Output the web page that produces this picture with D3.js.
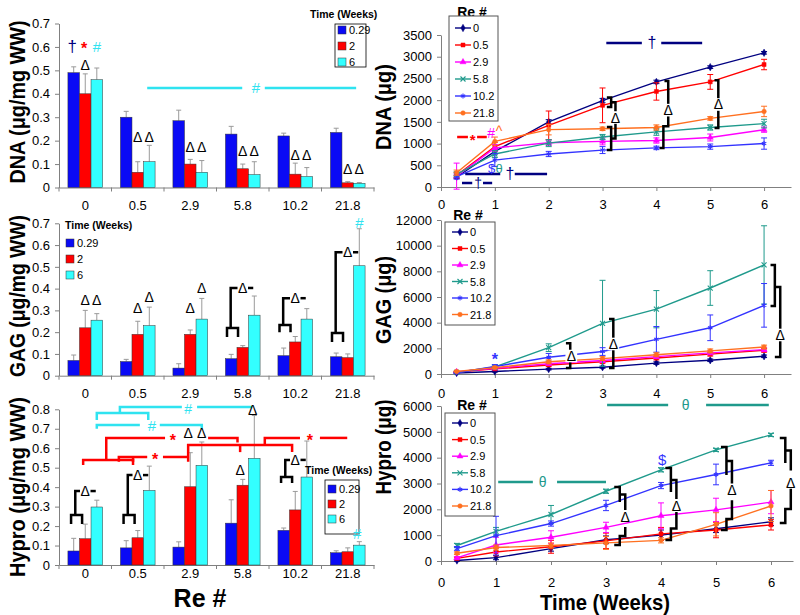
<!DOCTYPE html>
<html>
<head>
<meta charset="utf-8">
<script src="https://cdn.jsdelivr.net/npm/d3@7"></script>
<style>
  body { margin: 0; background: #fff; }
  text { font-family: Arial, "Liberation Sans", sans-serif; }
</style>
</head>
<body>
<svg id="chart" width="800" height="615"></svg>
<script>
'use strict';

// ---------- data ----------
const reCats = ["0", "0.5", "2.9", "5.8", "10.2", "21.8"];
const timeWeeks = ["0.29", "2", "6"];
const weeks = [0.29, 1, 2, 3, 4, 5, 6];

// per wet weight, [time][Re]
const dnaWW = [
  [0.49, 0.30, 0.285, 0.228, 0.22, 0.235],
  [0.40, 0.065, 0.10, 0.08, 0.057, 0.02],
  [0.46, 0.11, 0.065, 0.055, 0.047, 0.018]
];
const dnaWWErr = [
  [0.025, 0.025, 0.045, 0.033, 0.012, 0.018],
  [0.085, 0.045, 0.02, 0.02, 0.047, 0.005],
  [0.05, 0.07, 0.05, 0.055, 0.038, 0.003]
];
const gagWW = [
  [0.07, 0.065, 0.035, 0.078, 0.092, 0.087],
  [0.22, 0.19, 0.19, 0.13, 0.155, 0.083],
  [0.255, 0.23, 0.26, 0.278, 0.26, 0.505]
];
const gagWWErr = [
  [0.025, 0.01, 0.02, 0.02, 0.035, 0.017],
  [0.08, 0.06, 0.02, 0.008, 0.025, 0.017],
  [0.03, 0.085, 0.095, 0.088, 0.048, 0.17]
];
const hypWW = [
  [0.072, 0.088, 0.092, 0.215, 0.178, 0.063],
  [0.135, 0.14, 0.402, 0.41, 0.283, 0.068],
  [0.298, 0.383, 0.512, 0.548, 0.452, 0.102]
];
const hypWWErr = [
  [0.065, 0.037, 0.027, 0.12, 0.012, 0.01],
  [0.075, 0.037, 0.175, 0.03, 0.095, 0.02],
  [0.035, 0.125, 0.12, 0.22, 0.185, 0.018]
];

// totals vs time, [Re][week]
const dnaTot = [
  [230, 820, 1500, 1990, 2420, 2760, 3090],
  [270, 930, 1420, 1880, 2200, 2420, 2820],
  [250, 900, 1020, 1050, 1070, 1140, 1320],
  [290, 760, 1010, 1150, 1270, 1370, 1460],
  [240, 620, 760, 850, 900, 930, 1000],
  [330, 1050, 1320, 1340, 1370, 1580, 1740]
];
const dnaTotErr = [
  [30, 60, 50, 50, 40, 30, 30],
  [60, 100, 330, 400, 200, 170, 120],
  [300, 80, 60, 80, 60, 80, 60],
  [60, 80, 80, 60, 80, 60, 100],
  [60, 150, 60, 80, 40, 60, 130],
  [60, 100, 120, 40, 60, 40, 120]
];
const gagTot = [
  [80, 200, 380, 530, 850, 1070, 1380],
  [150, 400, 700, 950, 1250, 1550, 1850],
  [180, 450, 800, 1050, 1350, 1650, 1900],
  [120, 550, 2050, 3950, 5050, 6700, 8500],
  [100, 580, 1300, 1750, 2700, 3600, 5350],
  [200, 500, 950, 1200, 1500, 1800, 2100]
];
const gagTotErr = [
  [30, 50, 60, 80, 100, 100, 100],
  [30, 60, 100, 100, 150, 150, 150],
  [30, 80, 100, 150, 150, 150, 150],
  [50, 150, 300, 3350, 1450, 1350, 3050],
  [30, 150, 300, 300, 1000, 1000, 1700],
  [30, 80, 150, 150, 150, 150, 150]
];
const hypTot = [
  [20, 130, 480, 820, 1000, 1250, 1520],
  [100, 350, 550, 780, 1050, 1200, 1400],
  [120, 620, 920, 1300, 1750, 1980, 2280],
  [600, 1150, 1800, 2700, 3530, 4300, 4880],
  [480, 980, 1450, 2150, 2920, 3350, 3800],
  [300, 520, 600, 700, 800, 1420, 2130]
];
const hypTotErr = [
  [30, 80, 100, 150, 200, 150, 150],
  [50, 150, 250, 300, 250, 300, 200],
  [50, 300, 250, 200, 500, 450, 450],
  [80, 150, 350, 80, 80, 60, 60],
  [80, 750, 100, 200, 120, 400, 100],
  [50, 100, 100, 250, 100, 450, 600]
];

const barColors = ["#0a0af5", "#ff0000", "#33ffff"];
const reColors = ["#000080", "#ff0000", "#ff00ff", "#1f9a8c", "#3333ff", "#ff7020"];
const reSymbols = [d3.symbolDiamond, d3.symbolSquare, d3.symbolTriangle,
                   d3.symbolTimes || d3.symbolCross, d3.symbolAsterisk || d3.symbolStar, d3.symbolCircle];
const strokeSym = [false, false, false, true, true, false];

const NAVY = "#000080", RED = "#ff0000", CYAN = "#2fe3f0", TEAL = "#1f9a8c",
      BLUE = "#3333ff", MAG = "#ff00ff", ORG = "#ff7020", AXIS = "#808080";

const svg = d3.select("#chart");
const fmt1 = d => d === 0 ? "0" : d3.format(".1f")(d);

function styleAxis(sel) {
  sel.select(".domain").attr("stroke", AXIS);
  sel.selectAll(".tick line").attr("stroke", AXIS);
  sel.selectAll(".tick text").attr("fill", "#000").attr("font-size", 13)
    .attr("font-family", "Arial, 'Liberation Sans', sans-serif");
}

// ---------- bar panels ----------
function barPanel(p) {
  const g = svg.append("g");
  const x0 = d3.scaleBand().domain(reCats).range([p.left, p.right]).paddingInner(0.34).paddingOuter(0.17);
  const x1 = d3.scaleBand().domain(timeWeeks).range([0, x0.bandwidth()]);
  const y = d3.scaleLinear().domain([0, p.ymax]).range([p.bottom, p.top]);
  const half = x0.bandwidth() / 2;
  const ci = d3.scaleLinear().domain([0, 5]).range([x0(reCats[0]) + half, x0(reCats[5]) + half]);

  g.append("g").attr("transform", "translate(" + p.left + ",0)")
    .call(d3.axisLeft(y).tickValues(d3.range(0, p.ymax + 0.001, 0.1)).tickFormat(fmt1)
      .tickSize(4).tickPadding(5).tickSizeOuter(0))
    .call(styleAxis);
  g.append("g").attr("transform", "translate(0," + p.bottom + ")")
    .call(d3.axisBottom(x0).tickSize(0).tickPadding(p.labPad).tickSizeOuter(0))
    .call(styleAxis);
  g.selectAll(".sep").data(d3.range(reCats.length + 1)).join("line")
    .attr("x1", i => p.left + i * x0.step()).attr("x2", i => p.left + i * x0.step())
    .attr("y1", p.bottom).attr("y2", p.bottom + 4).attr("stroke", AXIS);

  p.vals.forEach(function(arr, s) {
    const cx = (d, i) => x0(reCats[i]) + x1(timeWeeks[s]) + x1.bandwidth() / 2;
    const err = p.errs[s];
    g.append("g").selectAll("line").data(arr).join("line")
      .attr("x1", cx).attr("x2", cx)
      .attr("y1", d => y(d)).attr("y2", (d, i) => y(d + err[i]))
      .attr("stroke", "#9a9a9a").attr("stroke-width", 1);
    g.append("g").selectAll("line").data(arr).join("line")
      .attr("x1", (d, i) => cx(d, i) - 2.5).attr("x2", (d, i) => cx(d, i) + 2.5)
      .attr("y1", (d, i) => y(d + err[i])).attr("y2", (d, i) => y(d + err[i]))
      .attr("stroke", "#9a9a9a").attr("stroke-width", 1);
    g.append("g").selectAll("rect").data(arr).join("rect")
      .attr("x", (d, i) => x0(reCats[i]) + x1(timeWeeks[s]))
      .attr("width", x1.bandwidth())
      .attr("y", d => y(d))
      .attr("height", d => y(0) - y(d))
      .attr("fill", barColors[s]).attr("stroke", "#333").attr("stroke-width", 0.5);
  });

  // legend
  const L = p.legend;
  g.append("text").attr("x", L.tx).attr("y", L.ty).attr("font-size", 10.5).attr("font-weight", "bold")
    .attr("dominant-baseline", "central").text("Time (Weeks)");
  if (L.box) {
    g.append("rect").attr("x", L.box[0]).attr("y", L.box[1]).attr("width", L.box[2]).attr("height", L.box[3])
      .attr("fill", "#fff").attr("stroke", "#000").attr("stroke-width", 0.8);
  }
  timeWeeks.forEach(function(t, s) {
    const yy = L.y0 + s * L.step;
    g.append("rect").attr("x", L.sx).attr("y", yy - 4).attr("width", 8).attr("height", 8)
      .attr("fill", barColors[s]).attr("stroke", "#333").attr("stroke-width", 0.5);
    g.append("text").attr("x", L.sx + 11).attr("y", yy).attr("font-size", 11)
      .attr("dominant-baseline", "central").text(t);
  });

  return { g: g, X: ci, Y: y };
}

// ---------- line panels ----------
function linePanel(p) {
  const g = svg.append("g");
  const x = d3.scaleLinear().domain([0, p.xmax]).range([p.left, p.right]);
  const y = d3.scaleLinear().domain([0, p.ymax]).range([p.bottom, p.top]);

  g.append("g").attr("transform", "translate(" + p.left + ",0)")
    .call(d3.axisLeft(y).tickValues(d3.range(0, p.ymax + 1, p.ystep)).tickFormat(d3.format("d"))
      .tickSize(4).tickPadding(5).tickSizeOuter(0))
    .call(styleAxis);
  g.append("g").attr("transform", "translate(0," + p.bottom + ")")
    .call(d3.axisBottom(x).tickValues(d3.range(0, 7)).tickFormat(d3.format("d"))
      .tickSize(4).tickPadding(p.labPad).tickSizeOuter(0))
    .call(styleAxis);

  const line = d3.line().x((d, i) => x(weeks[i])).y(d => y(d));
  p.vals.forEach(function(arr, r) {
    const col = reColors[r];
    const err = p.errs[r];
    g.append("path").datum(arr).attr("d", line).attr("fill", "none")
      .attr("stroke", col).attr("stroke-width", 1.4);
    const eg = g.append("g").attr("stroke", col).attr("stroke-width", 1);
    arr.forEach(function(v, i) {
      const xx = x(weeks[i]);
      eg.append("line").attr("x1", xx).attr("x2", xx).attr("y1", y(v - err[i])).attr("y2", y(v + err[i]));
      eg.append("line").attr("x1", xx - 3).attr("x2", xx + 3).attr("y1", y(v - err[i])).attr("y2", y(v - err[i]));
      eg.append("line").attr("x1", xx - 3).attr("x2", xx + 3).attr("y1", y(v + err[i])).attr("y2", y(v + err[i]));
    });
    const sym = d3.symbol().type(reSymbols[r]).size(strokeSym[r] ? 18 : 16);
    g.append("g").selectAll("path").data(arr).join("path")
      .attr("transform", (d, i) => "translate(" + x(weeks[i]) + "," + y(d) + ")")
      .attr("d", sym)
      .attr("fill", strokeSym[r] ? "none" : col)
      .attr("stroke", col).attr("stroke-width", strokeSym[r] ? 1.1 : 0.5);
  });

  // legend
  const L = p.legend;
  g.append("text").attr("x", L.tx).attr("y", L.ty).attr("font-size", 14).attr("font-weight", "bold")
    .attr("text-anchor", "middle").attr("dominant-baseline", "central").text("Re #");
  g.append("rect").attr("x", L.box[0]).attr("y", L.box[1]).attr("width", L.box[2]).attr("height", L.box[3])
    .attr("fill", "#fff").attr("stroke", "#555").attr("stroke-width", 1);
  reCats.forEach(function(c, r) {
    const yy = L.y0 + r * L.step;
    const col = reColors[r];
    g.append("line").attr("x1", L.lx).attr("x2", L.lx + 16).attr("y1", yy).attr("y2", yy)
      .attr("stroke", col).attr("stroke-width", 1.4);
    g.append("path").attr("transform", "translate(" + (L.lx + 8) + "," + yy + ")")
      .attr("d", d3.symbol().type(reSymbols[r]).size(strokeSym[r] ? 18 : 16))
      .attr("fill", strokeSym[r] ? "none" : col).attr("stroke", col)
      .attr("stroke-width", strokeSym[r] ? 1.1 : 0.5);
    g.append("text").attr("x", L.lx + 18).attr("y", yy).attr("font-size", 11)
      .attr("dominant-baseline", "central").text(c);
  });

  return { g: g, X: x, Y: y };
}

// ---------- annotation helpers (data units of each panel) ----------
function seg(P, pts, col, w) {
  P.g.append("path").attr("d", d3.line().x(d => P.X(d[0])).y(d => P.Y(d[1]))(pts))
    .attr("fill", "none").attr("stroke", col).attr("stroke-width", w || 2.5);
}
function lab(P, xd, yd, s, col, size, bg) {
  const xx = P.X(xd), yy = P.Y(yd);
  const sz = size || 14;
  if (bg) {
    P.g.append("rect").attr("x", xx - sz * 0.42).attr("y", yy - sz * 0.45)
      .attr("width", sz * 0.84).attr("height", sz * 0.9).attr("fill", "#fff");
  }
  P.g.append("text").attr("x", xx).attr("y", yy).attr("text-anchor", "middle")
    .attr("dominant-baseline", "central").attr("font-size", sz).attr("fill", col || "#000")
    .text(s);
}
function star(P, xd, yd, col, size) {
  // asterisk glyph sits high in the em box, push it down a little
  const sz = size || 16;
  P.g.append("text").attr("x", P.X(xd)).attr("y", P.Y(yd) + sz * 0.18).attr("text-anchor", "middle")
    .attr("dominant-baseline", "central").attr("font-size", sz).attr("font-weight", "bold")
    .attr("fill", col).text("*");
}
function bigLabel(x, y, s, len, rot) {
  const t = svg.append("text").attr("transform", "translate(" + x + "," + y + ")" + (rot ? " rotate(-90)" : ""))
    .attr("text-anchor", "middle").attr("dominant-baseline", "central")
    .attr("font-size", 22).attr("font-weight", "bold").text(s);
  if (len) t.attr("textLength", len).attr("lengthAdjust", "spacingAndGlyphs");
  return t;
}

// ---------- panels ----------
const A = barPanel({ left: 59, right: 374, top: 23.5, bottom: 187.5, ymax: 0.7, labPad: 13,
  vals: dnaWW, errs: dnaWWErr,
  legend: { tx: 310, ty: 14, box: [335, 24, 31, 43], sx: 338, y0: 30, step: 16 } });
const C = barPanel({ left: 59, right: 374, top: 223.3, bottom: 375.7, ymax: 0.7, labPad: 13.5,
  vals: gagWW, errs: gagWWErr,
  legend: { tx: 65, ty: 225, box: null, sx: 66, y0: 243, step: 16 } });
const E = barPanel({ left: 59, right: 374, top: 409.3, bottom: 565, ymax: 0.8, labPad: 3.5,
  vals: hypWW, errs: hypWWErr,
  legend: { tx: 305, ty: 470, box: [325, 480, 34, 54], sx: 328, y0: 489, step: 15 } });

const B = linePanel({ left: 441, right: 791, xmax: 6.5, top: 35, bottom: 187, ymax: 3500, ystep: 500, labPad: 8.5,
  vals: dnaTot, errs: dnaTotErr,
  legend: { tx: 472, ty: 12, box: [449, 16, 49, 105], lx: 455, y0: 28, step: 17 } });
const D = linePanel({ left: 441, right: 791, xmax: 6.5, top: 220, bottom: 374, ymax: 12000, ystep: 2000, labPad: 10.5,
  vals: gagTot, errs: gagTotErr,
  legend: { tx: 468, ty: 215, box: [445, 222, 50, 103], lx: 452, y0: 232, step: 16.5 } });
const F = linePanel({ left: 441, right: 793, xmax: 6.4, top: 406, bottom: 561, ymax: 6000, ystep: 1000, labPad: 12.5,
  vals: hypTot, errs: hypTotErr,
  legend: { tx: 472, ty: 405, box: [445, 413, 50, 103], lx: 452, y0: 423, step: 16.6 } });

// ---------- axis titles ----------
bigLabel(17, 102, "DNA (\u03bcg/mg WW)", 163, true);
bigLabel(17, 296, "GAG (\u03bcg/mg WW)", 162, true);
bigLabel(17, 487, "Hypro (\u03bcg/mg WW)", 180, true);
bigLabel(383, 107, "DNA (\u03bcg)", 86, true);
bigLabel(383, 300, "GAG (\u03bcg)", 88, true);
bigLabel(383, 447, "Hypro (\u03bcg)", 95, true);
bigLabel(605, 602, "Time (Weeks)", 130, false);
bigLabel(200, 598, "Re #", null, false).attr("font-size", 25);

// ---------- panel A marks ----------
lab(A, -0.25, 0.60, "\u2020", NAVY, 17);
star(A, -0.02, 0.605, RED, 16);
lab(A, 0.22, 0.60, "#", CYAN, 15);
lab(A, 0, 0.525, "\u0394");
[0.215, 0.173, 0.156, 0.139, 0.079].forEach(function(v, k) {
  lab(A, k + 1, v, "\u0394");
  lab(A, k + 1.22, v, "\u0394");
});
seg(A, [[1.18, 0.425], [2.99, 0.425]], CYAN, 2.5);
lab(A, 3.25, 0.425, "#", CYAN, 15);
seg(A, [[3.42, 0.425], [5.16, 0.425]], CYAN, 2.5);

// ---------- panel C marks ----------
lab(C, 0, 0.347, "\u0394"); lab(C, 0.22, 0.347, "\u0394");
lab(C, 1, 0.311, "\u0394"); lab(C, 1.22, 0.362, "\u0394");
lab(C, 2, 0.311, "\u0394"); lab(C, 2.22, 0.403, "\u0394");
[[3, 0.219, 0.178, 0.403], [4, 0.233, 0.200, 0.356], [5, 0.196, 0.155, 0.567]].forEach(function(b) {
  const c = b[0];
  seg(C, [[c - 0.3, b[2]], [c - 0.3, b[1]], [c - 0.09, b[1]], [c - 0.09, b[2]]], "#000", 2.5);
  seg(C, [[c - 0.23, b[1]], [c - 0.23, b[3]], [c - 0.1, b[3]]], "#000", 2.5);
  lab(C, c, b[3], "\u0394");
  seg(C, [[c + 0.1, b[3]], [c + 0.2, b[3]]], "#000", 2.5);
});
lab(C, 5.22, 0.705, "#", CYAN, 15);

// ---------- panel E marks ----------
seg(E, [[0.66, 0.781], [0.66, 0.812], [1.84, 0.812]], CYAN, 2.5);
lab(E, 1.96, 0.80, "#", CYAN, 14);
seg(E, [[2.13, 0.812], [3.18, 0.812]], CYAN, 2.5);
seg(E, [[0.22, 0.745], [0.22, 0.781], [1.2, 0.781], [1.2, 0.745]], CYAN, 2.5);
seg(E, [[0.22, 0.70], [0.22, 0.719], [1.04, 0.719]], CYAN, 2.5);
lab(E, 1.27, 0.719, "#", CYAN, 15);
seg(E, [[1.42, 0.719], [2.22, 0.719], [2.22, 0.70]], CYAN, 2.5);

seg(E, [[-0.04, 0.514], [-0.04, 0.54], [0.91, 0.54], [0.91, 0.514]], RED, 2.5);
seg(E, [[0.40, 0.54], [0.40, 0.653], [1.52, 0.653]], RED, 2.5);
star(E, 1.67, 0.653, RED, 16);
seg(E, [[2.34, 0.653], [2.9, 0.653], [2.9, 0.63]], RED, 2.5);
seg(E, [[0.64, 0.53], [0.64, 0.555], [1.18, 0.555]], RED, 2.5);
seg(E, [[0.91, 0.555], [0.91, 0.53]], RED, 2.5);
star(E, 1.33, 0.555, RED, 16);
seg(E, [[1.48, 0.555], [1.96, 0.555]], RED, 2.5);
seg(E, [[1.96, 0.53], [1.96, 0.617], [3.94, 0.617], [3.94, 0.58]], RED, 2.5);
seg(E, [[2.95, 0.617], [2.95, 0.58]], RED, 2.5);
seg(E, [[3.42, 0.617], [3.42, 0.653], [4.09, 0.653]], RED, 2.5);
star(E, 4.28, 0.653, RED, 16);
seg(E, [[4.47, 0.653], [4.99, 0.653]], RED, 2.5);

[[0, 0.257, 0.211, 0.38], [1, 0.257, 0.211, 0.462], [4, 0.452, 0.421, 0.54]].forEach(function(b) {
  const c = b[0];
  seg(E, [[c - 0.27, b[2]], [c - 0.27, b[1]], [c - 0.06, b[1]], [c - 0.06, b[2]]], "#000", 2.5);
  seg(E, [[c - 0.19, b[1]], [c - 0.19, b[3]], [c - 0.1, b[3]]], "#000", 2.5);
  lab(E, c, b[3], "\u0394");
  seg(E, [[c + 0.1, b[3]], [c + 0.2, b[3]]], "#000", 2.5);
});
lab(E, 3.19, 0.797, "\u0394");
lab(E, 2.95, 0.488, "\u0394");
lab(E, 1.96, 0.678, "\u0394");
lab(E, 2.22, 0.678, "\u0394");
lab(E, 5.18, 0.164, "#", CYAN, 15);

// ---------- panel B marks ----------
seg(B, [[3.07, 3316], [3.73, 3316]], NAVY, 2.5);
lab(B, 3.92, 3316, "\u2020", NAVY, 16);
seg(B, [[4.09, 3316], [4.85, 3316]], NAVY, 2.5);
seg(B, [[0.45, 300], [1.1, 300]], NAVY, 2.5);
lab(B, 1.28, 300, "\u2020", NAVY, 16);
seg(B, [[1.37, 300], [1.97, 300]], NAVY, 2.5);
seg(B, [[0.39, 92], [0.58, 92]], NAVY, 2.5);
lab(B, 0.69, 92, "\u2020", NAVY, 14);
seg(B, [[0.78, 92], [0.95, 92]], NAVY, 2.5);
lab(B, 0.94, 415, "$", BLUE, 13);
lab(B, 1.08, 415, "\u03b8", TEAL, 13);
seg(B, [[0.3, 1151], [0.5, 1151]], RED, 2.5);
star(B, 0.59, 1151, RED, 15);
seg(B, [[0.67, 1151], [0.85, 1151]], RED, 2.5);
lab(B, 0.93, 1240, "#", MAG, 14);
lab(B, 1.08, 1300, "^", ORG, 14);

seg(B, [[3.08, 2060], [3.16, 2060], [3.16, 1840], [3.08, 1840]], "#000", 2.5);
seg(B, [[3.16, 1950], [3.24, 1950], [3.24, 1115], [3.16, 1115]], "#000", 2.5);
seg(B, [[3.08, 1380], [3.16, 1380], [3.16, 850], [3.08, 850]], "#000", 2.5);
lab(B, 3.24, 1600, "\u0394", "#000", 14, true);
seg(B, [[4.15, 2440], [4.22, 2440], [4.22, 1400], [4.13, 1400], [4.13, 900], [4.06, 900]], "#000", 2.5);
lab(B, 4.22, 1770, "\u0394", "#000", 14, true);
seg(B, [[5.08, 2460], [5.15, 2460], [5.15, 1360], [5.08, 1360]], "#000", 2.5);
lab(B, 5.15, 1900, "\u0394", "#000", 14, true);

// ---------- panel D marks ----------
star(D, 1.0, 1325, BLUE, 16);
seg(D, [[2.32, 2400], [2.4, 2400], [2.4, 470], [2.32, 470]], "#000", 2.5);
lab(D, 2.42, 1400, "\u0394", "#000", 14, true);
seg(D, [[3.12, 4280], [3.2, 4280], [3.2, 470], [3.12, 470]], "#000", 2.5);
lab(D, 3.2, 2340, "\u0394", "#000", 14, true);
seg(D, [[6.12, 8490], [6.2, 8490], [6.2, 5300], [6.12, 5300]], "#000", 2.5);
seg(D, [[6.2, 6780], [6.3, 6780], [6.3, 1325], [6.2, 1325]], "#000", 2.5);
lab(D, 6.3, 3040, "\u0394", "#000", 14, true);

// ---------- panel F marks ----------
seg(F, [[3.02, 6039], [4.13, 6039]], TEAL, 2.5);
lab(F, 4.45, 6039, "\u03b8", TEAL, 14);
seg(F, [[4.82, 6039], [5.96, 6039]], TEAL, 2.5);
seg(F, [[1.04, 3058], [1.67, 3058]], TEAL, 2.5);
lab(F, 1.85, 3058, "\u03b8", TEAL, 14);
seg(F, [[2.11, 3058], [3.0, 3058]], TEAL, 2.5);
lab(F, 4.02, 3948, "$", BLUE, 15);

// "h" above and "J" below each delta: x, top, bottom, leg end (upper) / lower top, bottom, leg start, delta y
[[3.25, 2865, 2284, 1974, 1316, 620, 1316, 1700],
 [4.18, 3600, 2671, 2400, 1703, 813, 1900, 2130],
 [5.19, 4413, 3329, 3000, 2052, 1200, 2350, 2750],
 [6.26, 4761, 3794, 3500, 2555, 1471, 2800, 3020]].forEach(function(b) {
  const x = b[0], s = 0.1;
  const mid1 = (b[1] + b[2]) / 2, mid2 = (b[4] + b[5]) / 2;
  seg(F, [[x - s, b[1]], [x, b[1]], [x, b[2]]], "#000", 2.5);
  seg(F, [[x, mid1], [x + s, mid1], [x + s, b[3]]], "#000", 2.5);
  seg(F, [[x + s, b[6]], [x + s, mid2], [x, mid2], [x, b[5]], [x - s, b[5]]], "#000", 2.5);
  lab(F, x + s, b[7], "\u0394");
});
</script>
</body>
</html>
